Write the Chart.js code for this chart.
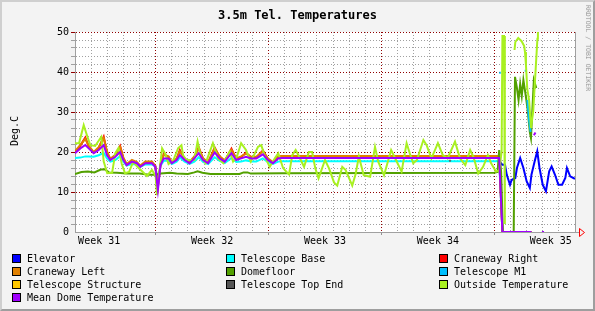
<!DOCTYPE html>
<html>
<head>
<meta charset="utf-8">
<title>3.5m Tel. Temperatures</title>
<script src="https://cdn.jsdelivr.net/npm/chart.js@4.4.1/dist/chart.umd.min.js"></script>
<style>
  body { margin: 0; background: #f3f3f3; }
  #wrap { position: relative; width: 595px; height: 311px; overflow: hidden; background: #f3f3f3; font-family: "DejaVu Sans Mono", monospace; color: #000; }
  #myChart { position: absolute; left: 0; top: 0; }
  #frame { position: absolute; left: 0; top: 0; width: 595px; height: 311px; box-sizing: border-box; border: 2px solid; border-color: #cfcfcf #9e9e9e #9e9e9e #cfcfcf; pointer-events: none; }
  #title { position: absolute; left: 0; top: 8px; width: 595px; text-align: center; font-size: 12px; line-height: 14px; font-weight: bold; }
  #ylab { position: absolute; left: 14px; top: 131px; transform: translate(-50%, -50%) rotate(-90deg); font-size: 10px; white-space: nowrap; }
  #credit { position: absolute; left: 588px; top: 48px; transform: translate(-50%, -50%) rotate(90deg); font-size: 6.5px; color: #999; white-space: nowrap; }
  .box { position: absolute; width: 7px; height: 7px; border: 1px solid #000; }
  .item { position: absolute; font-size: 10px; line-height: 12px; white-space: nowrap; }
</style>
</head>
<body>
<div id="wrap">
  <canvas id="myChart" width="595" height="311"></canvas>
  <div id="title">3.5m Tel. Temperatures</div>
  <div id="ylab">Deg.C</div>
  <div id="credit">RRDTOOL / TOBI OETIKER</div>
  <div id="legend"></div>
  <div id="frame"></div>
</div>
<script>
  // legend order (same as rrd draw order, first = bottom)
  var seriesNames = ["Elevator", "Telescope Base", "Craneway Right", "Craneway Left", "Domefloor",
    "Telescope M1", "Telescope Structure", "Telescope Top End", "Outside Temperature", "Mean Dome Temperature"];
  var seriesColors = ["#0000ff", "#00ffff", "#ff0000", "#e08000", "#52a000",
    "#00c0ff", "#ffc800", "#555555", "#a8f020", "#a000ff"];

  // x axis is in days from the left edge of the graph
  var weekNames = ["Week 31", "Week 32", "Week 33", "Week 34", "Week 35"];
  var weekCenters = [1.5, 8.5, 15.5, 22.5, 29.5];
  var weekStarts = [5, 12, 19, 26];

  // dome sensors share one time base
  var domeDays = [0, 0.33, 0.64, 0.85, 1.16, 1.47, 1.78, 1.98, 2.19, 2.5, 2.8, 3.0, 3.2, 3.53, 3.84,
    4.05, 4.36, 4.77, 4.98, 5.14, 5.3, 5.5, 5.8, 6.0, 6.3, 6.5, 6.8, 7.1, 7.4, 7.67, 7.94, 8.25, 8.66,
    8.97, 9.28, 9.7, 10.0, 10.3, 10.6, 10.93, 11.24, 11.65, 11.96, 12.27, 12.6, 12.8, 26.3, 26.5, 28.3];

  var meanDome = [19.7, 20.9, 21.75, 20.9, 19.7, 20.5, 21.75, 19.25, 18, 18.8, 20, 18, 16.75, 17.6, 17.2,
    16.3, 17.2, 17.2, 16.3, 10.5, 16.75, 18.4, 18.4, 17.2, 18, 19.25, 18, 17.2, 18.4, 19.7, 18, 17.2, 19.9,
    18.4, 17.6, 19.7, 18, 18.4, 18.8, 18.4, 18.4, 19.4, 18, 17.2, 18.4, 18.5, 18.5, 0, 0];
  var meanTailDays = [28.35, 28.45, 28.55, 28.7, 28.95, 29.08];
  var meanTail = [null, 24.2, 24.9, null, 0, 0];

  var craneLeft = [20.2, 21.8, 23.3, 21.6, 20.0, 21.2, 23.5, 20.2, 18.3, 19.3, 21.2, 18.6, 17.0, 18.0, 17.5,
    16.6, 17.6, 17.6, 16.6, 11.5, 17.0, 19.3, 18.9, 17.5, 18.4, 20.2, 18.4, 17.5, 18.9, 20.9, 18.4, 17.5, 20.9,
    18.9, 17.9, 20.5, 18.4, 18.9, 19.6, 18.8, 18.8, 20.2, 18.4, 17.5, 18.9, 19.0, 19.0, 0, 0];

  var craneRight = [20.0, 21.6, 23.6, 21.4, 19.8, 21.0, 23.8, 20.0, 18.1, 19.1, 21.5, 18.4, 16.8, 17.8, 17.3,
    16.4, 17.4, 17.4, 16.4, 11.2, 16.8, 19.5, 18.7, 17.3, 18.2, 20.5, 18.2, 17.3, 18.7, 21.2, 18.2, 17.3, 21.1,
    18.7, 17.7, 20.8, 18.2, 18.7, 19.8, 18.6, 18.6, 20.4, 18.2, 17.3, 18.7, 18.9, 18.9, 0, 0];

  var telBase = [18.5, 18.6, 18.9, 18.9, 18.8, 19.2, 19.8, 18.4, 17.6, 18.0, 19.0, 17.6, 16.6, 17.0, 16.9,
    16.3, 16.9, 16.9, 16.4, 12.5, 16.5, 17.8, 17.8, 17.0, 17.6, 18.6, 17.6, 17.0, 17.6, 18.7, 17.5, 17.0, 18.7,
    17.8, 17.2, 18.5, 17.5, 17.6, 17.9, 17.6, 17.6, 18.4, 17.5, 17.0, 17.6, 17.7, 17.7, 0, 0];

  //Domefloor
  var floorDays = [0, 0.4, 0.8, 1.2, 1.6, 1.85, 2.1, 2.6, 3.2, 4.0, 4.6, 5.0, 5.3, 5.9, 6.3, 7.0, 7.4, 7.6,
    7.9, 8.4, 10.2, 10.45, 10.7, 10.9, 12.8, 26.0, 26.2, 26.3, 26.42, 26.53, 27.2, 27.28, 27.4, 27.5, 27.6,
    27.7, 27.8, 27.95, 28.05, 28.2, 28.27, 28.35, 28.45, 28.6];
  var floorTemp = [14.5, 15.0, 15.1, 14.9, 15.6, 15.7, 14.9, 14.8, 14.6, 14.6, 14.3, 14.3, 14.6, 14.8, 14.6,
    14.5, 14.9, 15.2, 14.8, 14.5, 14.5, 14.9, 14.9, 14.6, 14.7, 14.8, 15.0, 20.5, 15.0, 0, 0, 38.8, 36, 33, 37,
    34, 38, 34, 31, 25, 23.5, 30, 38, 36];

  //Outside
  var outsideDays = [0, 0.25, 0.54, 0.74, 0.95, 1.25, 1.63, 1.78, 2.0, 2.3, 2.5, 2.7, 2.9, 3.1, 3.35, 3.6,
    3.95, 4.46, 4.77, 5.0, 5.08, 5.2, 5.4, 5.6, 5.8, 6.1, 6.4, 6.6, 6.7, 6.9, 7.4, 7.6, 7.8, 8.1, 8.55, 8.87,
    9.2, 9.6, 9.8, 10.05, 10.3, 10.6, 10.9, 11.35, 11.55, 11.76, 12.07, 12.4, 12.6, 12.9, 13.1, 13.27, 13.47,
    13.68, 13.9, 14.2, 14.5, 14.7, 14.9, 15.1, 15.5, 15.75, 16.06, 16.26, 16.57, 16.78, 17.19, 17.4, 17.6,
    17.9, 18.3, 18.6, 18.8, 19.16, 19.6, 19.9, 20.25, 20.56, 20.77, 20.97, 21.2, 21.6, 21.8, 22.1, 22.5,
    22.8, 23.1, 23.56, 23.87, 24.2, 24.5, 24.7, 25.0, 25.3, 25.6, 25.8, 26.1, 26.3, 26.45, 26.5, 26.6,
    26.65, 27.0, 27.25, 27.3, 27.48, 27.69, 27.85, 27.9, 27.96, 28.04, 28.16, 28.27, 28.41, 28.52, 28.67, 28.7];
  var outsideTemp = [22.2, 22.2, 26.7, 24.2, 21.7, 21.5, 23.8, 17.6, 14.7, 14.8, 19.7, 21.0, 17.0, 14.7, 15.0,
    17.5, 16.0, 14.0, 15.5, 14.0, 9.2, 14.0, 20.9, 19.5, 17.0, 18.0, 21.0, 21.7, 19.2, 18.0, 18.0, 22.6, 18.8,
    17.2, 22.2, 18.4, 17.2, 20.1, 17.6, 19.0, 22.2, 20.5, 17.6, 21.3, 21.7, 19.0, 16.3, 18.5, 19.7, 16.0, 15.1,
    14.4, 19.2, 20.5, 18.8, 16.3, 20.0, 20.0, 15.9, 13.4, 18.0, 15.9, 12.4, 11.6, 16.3, 15.5, 11.6, 14.5, 18.9,
    14.2, 13.8, 21.3, 17.6, 14.2, 20.5, 18.0, 15.1, 22.2, 19.5, 17.2, 18.0, 23.0, 21.7, 18.4, 22.2, 19.2, 18.4,
    22.6, 18.4, 16.7, 20.5, 18.8, 14.6, 16.3, 19.2, 17.2, 15.1, 15.4, 20.0, 49.0, 49.0, 2.0, null, 45.5, 47.5,
    48.5, 47.7, 46.5, 45.0, 41.7, 35.8, 32.8, 26.0, 30.2, 37.8, 48.3, 50.0];

  //Elevator
  var elevDays = [26.35, 26.5, 26.66, 26.77, 26.97, 27.07, 27.3, 27.4, 27.6, 27.8, 28.0, 28.2, 28.3, 28.5,
    28.66, 28.8, 29.0, 29.2, 29.4, 29.55, 29.76, 29.97, 30.2, 30.4, 30.5, 30.7, 30.9, 31.0];
  var elevTemp = [17.5, 16.8, 16.8, 14.3, 11.8, 13, 13.5, 16, 18.5, 16, 12.7, 11, 14.3, 17.7, 20.2, 16, 11.8,
    10.2, 15.2, 16.4, 14.3, 11.8, 11.8, 13.5, 16, 13.9, 13.5, 13.3];

  // the odd short bits
  var m1Days = [26.3, 26.4, 26.5, 27.88, 27.96, 28.0, 28.05, 28.15, 28.25];
  var m1Temp = [39.8, 39.8, null, 40.3, 40.3, null, 33, 28, 25];
  var topEndDays = [23.2, 23.3];
  var topEndTemp = [17.8, 17.8];
  var structDays = [];
  var structTemp = [];

  function pairs(days, vals) {
    return days.map(function (d, i) {
      return { x: d, y: vals[i] };
    });
  }

  var seriesData = [
    pairs(elevDays, elevTemp),
    pairs(domeDays, telBase),
    pairs(domeDays, craneRight),
    pairs(domeDays, craneLeft),
    pairs(floorDays, floorTemp),
    pairs(m1Days, m1Temp),
    pairs(structDays, structTemp),
    pairs(topEndDays, topEndTemp),
    pairs(outsideDays, outsideTemp),
    pairs(domeDays.concat(meanTailDays), meanDome.concat(meanTail))
  ];

  var datasets = seriesData.map(function (d, i) {
    return {
      label: seriesNames[i],
      data: d,
      borderColor: seriesColors[i],
      backgroundColor: seriesColors[i],
      borderWidth: 2,
      pointRadius: 0,
      tension: 0,
      fill: false,
      spanGaps: false,
      order: seriesNames.length - 1 - i
    };
  });

  // legend, 3 columns like rrd
  var legend = document.getElementById("legend");
  var colX = [12, 226, 439];
  seriesNames.forEach(function (name, i) {
    var cx = colX[i % 3];
    var cy = 258.5 + 13 * Math.floor(i / 3);
    var box = document.createElement("div");
    box.className = "box";
    box.style.left = cx + "px";
    box.style.top = (cy - 4.5) + "px";
    box.style.background = seriesColors[i];
    legend.appendChild(box);
    var txt = document.createElement("div");
    txt.className = "item";
    txt.style.left = (cx + 15) + "px";
    txt.style.top = (cy - 6) + "px";
    txt.textContent = name;
    legend.appendChild(txt);
  });

  var rrdLook = {
    id: "rrdLook",
    beforeDraw: function (c) {
      var a = c.chartArea, g = c.ctx;
      g.save();
      g.fillStyle = "#ffffff";
      g.fillRect(a.left, a.top, a.right - a.left, a.bottom - a.top);
      g.restore();
    },
    afterDraw: function (c) {
      var a = c.chartArea, g = c.ctx;
      g.save();
      g.lineWidth = 1;
      g.strokeStyle = "#a0a0a0";
      g.beginPath();
      g.moveTo(a.right + 0.5, a.top);
      g.lineTo(a.right + 0.5, a.bottom);
      g.moveTo(a.right, a.bottom + 0.5);
      g.lineTo(a.right + 4, a.bottom + 0.5);
      g.stroke();
      // red arrow at end of time axis
      g.strokeStyle = "#ff0000";
      g.beginPath();
      g.moveTo(a.right + 4.5, a.bottom - 3.5);
      g.lineTo(a.right + 9.5, a.bottom + 0.5);
      g.lineTo(a.right + 4.5, a.bottom + 4.5);
      g.closePath();
      g.stroke();
      g.restore();
    }
  };

  Chart.defaults.font.family = "'DejaVu Sans Mono', monospace";
  Chart.defaults.font.size = 10;
  Chart.defaults.color = "#000";

  var ctx = document.getElementById("myChart").getContext("2d");
  this.chart = new Chart(ctx, {
    type: "line",
    data: { datasets: datasets },
    plugins: [rrdLook],
    options: {
      responsive: false,
      animation: false,
      layout: { padding: { left: 0, right: 20, top: 32, bottom: 0 } },
      plugins: { legend: { display: false }, tooltip: { enabled: false }, title: { display: false } },
      scales: {
        x: {
          type: "linear",
          min: 0,
          max: 31,
          afterFit: function (s) { s.height = 79; },
          afterBuildTicks: function (s) {
            var t = [];
            for (var d = 0; d <= 31; d++) t.push({ value: d });
            weekCenters.forEach(function (c) { t.push({ value: c }); });
            t.sort(function (a, b) { return a.value - b.value; });
            s.ticks = t;
          },
          ticks: {
            autoSkip: false,
            maxRotation: 0,
            padding: 0,
            callback: function (v) {
              var i = weekCenters.indexOf(v);
              return i >= 0 ? weekNames[i] : "";
            }
          },
          grid: {
            lineWidth: 1,
            tickLength: 3,
            color: function (c) {
              var v = c.tick ? c.tick.value : -1;
              if (v <= 0 || v >= 31 || weekCenters.indexOf(v) >= 0) return "rgba(0,0,0,0)";
              return weekStarts.indexOf(v) >= 0 ? "#900000" : "#a0a0a0";
            },
            tickColor: function (c) {
              var v = c.tick ? c.tick.value : -1;
              return weekStarts.indexOf(v) >= 0 ? "#909090" : "rgba(0,0,0,0)";
            }
          },
          border: { color: "#a0a0a0", width: 1, dash: [1, 2] }
        },
        y: {
          min: 0,
          max: 50,
          afterFit: function (s) { s.width = 75; },
          ticks: {
            stepSize: 2,
            padding: 2,
            autoSkip: false,
            callback: function (v) { return v % 10 === 0 ? v : ""; }
          },
          grid: {
            lineWidth: 1,
            tickLength: 4,
            color: function (c) {
              var v = c.tick ? c.tick.value : -1;
              if (v <= 0) return "rgba(0,0,0,0)";
              return v % 10 === 0 ? "#900000" : "#a0a0a0";
            }
          },
          border: { color: "#a0a0a0", width: 1, dash: [1, 2] }
        }
      }
    }
  });
</script>
</body>
</html>
